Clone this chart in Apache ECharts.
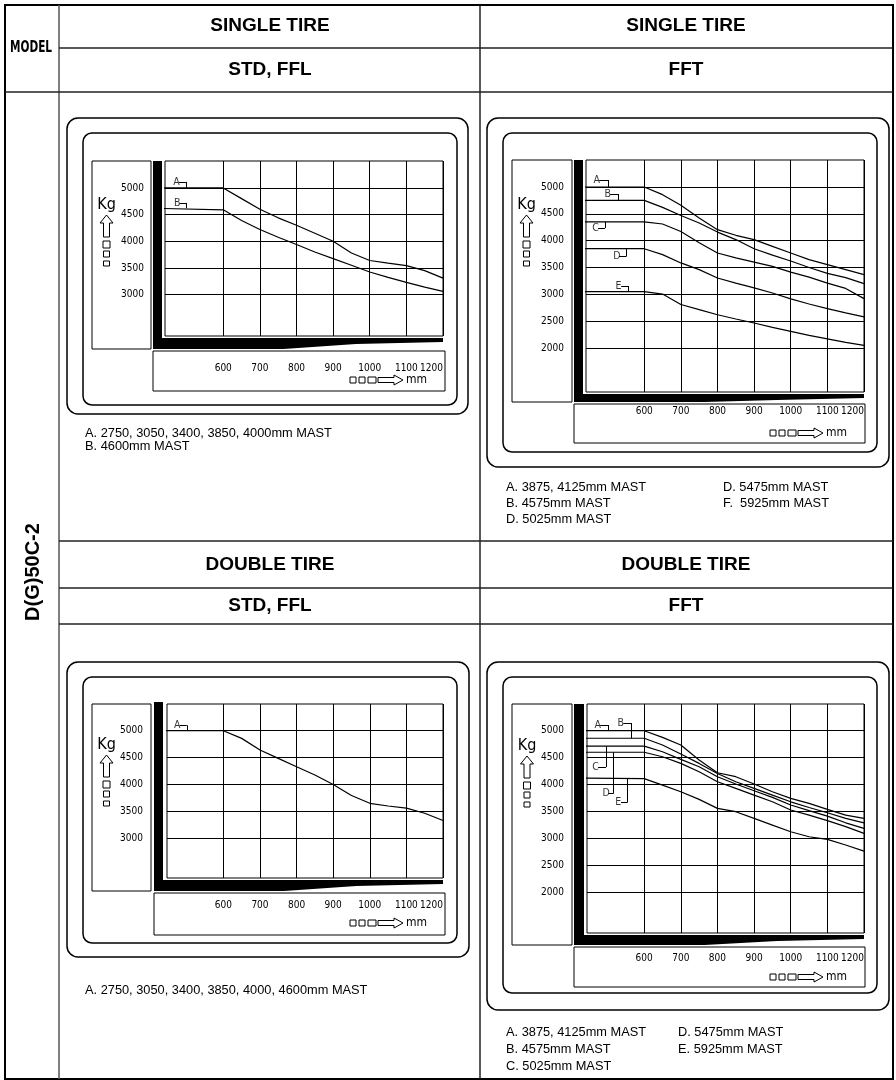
<!DOCTYPE html>
<html><head><meta charset="utf-8">
<script src="https://cdn.jsdelivr.net/npm/echarts@6/dist/echarts.min.js"></script>
<style>html,body{margin:0;padding:0;background:#fff;}#c{width:896px;height:1080px;}</style>
</head><body><div id="c"></div>
<script>
// ---------------- DATA ----------------
const loadCenter = [600, 650, 700, 750, 800, 850, 900, 950, 1000, 1050, 1100, 1150, 1200];
const flatFrom = 400;
const xTickValues = [600, 700, 800, 900, 1000, 1100, 1200];
const yTicksShort = [3000, 3500, 4000, 4500, 5000];
const yTicksLong = [2000, 2500, 3000, 3500, 4000, 4500, 5000];

// Single tire, STD/FFL
const sStdA_flat = 5000;
const sStdA = [5000, 4800, 4600, 4440, 4300, 4150, 4000, 3780, 3640, 3590, 3545, 3450, 3310];
const sStdB_flat = 4620;
const sStdB = [4590, 4390, 4220, 4075, 3940, 3800, 3675, 3550, 3425, 3325, 3230, 3140, 3060];

// Single tire, FFT
const sFftA_flat = 5000;
const sFftA = [5000, 4857, 4658, 4422, 4205, 4100, 4019, 3894, 3770, 3646, 3553, 3460, 3367];
const sFftB_flat = 4750;
const sFftB = [4750, 4620, 4470, 4330, 4160, 4020, 3850, 3730, 3620, 3500, 3390, 3310, 3200];
const sFftC_flat = 4350;
const sFftC = [4350, 4310, 4170, 3960, 3770, 3680, 3600, 3520, 3415, 3320, 3210, 3110, 2920];
const sFftD_flat = 3850;
const sFftD = [3850, 3740, 3585, 3460, 3305, 3210, 3120, 3025, 2915, 2820, 2735, 2655, 2580];
const sFftE_flat = 3050;
const sFftE = [3050, 3005, 2810, 2715, 2620, 2540, 2465, 2385, 2310, 2235, 2170, 2105, 2050];

// Double tire, STD/FFL
const dStdA_flat = 5000;
const dStdA = [5000, 4857, 4640, 4485, 4330, 4175, 4000, 3795, 3650, 3600, 3560, 3465, 3330];

// Double tire, FFT
const dFftA_flat = 5000;
const dFftA = [5000, 4876, 4734, 4455, 4220, 4146, 4010, 3867, 3743, 3650, 3540, 3434, 3372];
const dFftB_flat = 4860;
const dFftB = [4860, 4734, 4567, 4393, 4207, 4053, 3930, 3805, 3680, 3575, 3477, 3372, 3290];
const dFftC_flat = 4715;
const dFftC = [4715, 4610, 4468, 4330, 4145, 4010, 3885, 3762, 3620, 3515, 3415, 3290, 3186];
const dFftD_flat = 4600;
const dFftD = [4600, 4517, 4393, 4238, 4053, 3930, 3805, 3682, 3527, 3434, 3330, 3218, 3094];
const dFftE_flat = 4120;
const dFftE = [4110, 3990, 3867, 3725, 3558, 3496, 3372, 3248, 3124, 3031, 2982, 2877, 2765];

// texts
const headerTop = 'SINGLE TIRE';
const headerBottom = 'DOUBLE TIRE';
const subLeft = 'STD, FFL';
const subRight = 'FFT';
const modelLabel = 'MODEL';
const modelName = 'D(G)50C-2';
const legend1 = ['A. 2750, 3050, 3400, 3850, 4000mm MAST', 'B. 4600mm MAST'];
const legend2a = ['A. 3875, 4125mm MAST', 'B. 4575mm MAST', 'D. 5025mm MAST'];
const legend2b = ['D. 5475mm MAST', 'F.  5925mm MAST'];
const legend3 = ['A. 2750, 3050, 3400, 3850, 4000, 4600mm MAST'];
const legend4a = ['A. 3875, 4125mm MAST', 'B. 4575mm MAST', 'C. 5025mm MAST'];
const legend4b = ['D. 5475mm MAST', 'E. 5925mm MAST'];

// ---------------- LAYOUT / STYLE ----------------
const FN = '"DejaVu Sans Condensed","Liberation Sans Narrow",sans-serif';
const FS = '"Liberation Sans",Arial,sans-serif';

const panels = [
  { plot:[165,161,443,336], outer:[67,118,468,414], inner:[83,133,457,405], ybox:[92,161,151,349],
    bar:[153,161,162,349], hbarTop:338, xbox:[153,351,445,391], kx:106.5, ky:205, unitY:380, unitR:427,
    xMin:441, yMin:2225, yMax:5505, xMargin:27, yMargin:21, yTicks:yTicksShort,
    curves:[{f:sStdA_flat,v:sStdA},{f:sStdB_flat,v:sStdB}],
    notes:[{t:'A',x:462,y:5112,bx:498,to:5000},{t:'B',x:464,y:4719,bx:500,to:4620}],
    legend:[{lines:legend1,x:85,y:433,dy:13}] },
  { plot:[586,160,864,392], outer:[487,118,889,467], inner:[503,133,877,452], ybox:[512,160,572,402],
    bar:[574,160,583,402], hbarTop:394, xbox:[574,404,865,443], kx:526.5, ky:205, unitY:433, unitR:847,
    xMin:441, yMin:1180, yMax:5503, xMargin:14, yMargin:22, yTicks:yTicksLong,
    curves:[{f:sFftA_flat,v:sFftA},{f:sFftB_flat,v:sFftB},{f:sFftC_flat,v:sFftC},{f:sFftD_flat,v:sFftD},{f:sFftE_flat,v:sFftE}],
    notes:[{t:'A',x:460,y:5130,bx:502,to:5000},{t:'B',x:490,y:4870,bx:529,to:4750},{t:'C',x:457,y:4236,bx:493,to:4350},
           {t:'D',x:514,y:3714,bx:552,to:3850},{t:'E',x:520,y:3155,bx:556,to:3050}],
    legend:[{lines:legend2a,x:506,y:487,dy:16},{lines:legend2b,x:723,y:487,dy:16}] },
  { plot:[167,704,443,878], outer:[67,662,469,957], inner:[83,677,457,943], ybox:[92,704,151,891],
    bar:[154,702,163,891], hbarTop:880, xbox:[154,893,445,935], kx:106.5, ky:745, unitY:923, unitR:427,
    xMin:446, yMin:2262, yMax:5496, xMargin:22, yMargin:24, yTicks:yTicksShort,
    curves:[{f:dStdA_flat,v:dStdA}],
    notes:[{t:'A',x:464,y:5100,bx:500,to:5000}],
    legend:[{lines:legend3,x:85,y:990,dy:16}] },
  { plot:[587,704,864,933], outer:[487,662,889,1010], inner:[503,677,877,993], ybox:[512,704,572,945],
    bar:[574,704,584,945], hbarTop:935, xbox:[574,947,865,987], kx:527, ky:746, unitY:977, unitR:847,
    xMin:444, yMin:1244, yMax:5496, xMargin:20, yMargin:23, yTicks:yTicksLong,
    curves:[{f:dFftA_flat,v:dFftA},{f:dFftB_flat,v:dFftB},{f:dFftC_flat,v:dFftC},{f:dFftD_flat,v:dFftD},{f:dFftE_flat,v:dFftE}],
    notes:[{t:'A',x:463,y:5106,bx:502,to:5000},{t:'B',x:526,y:5143,bx:564,to:4860},{t:'C',x:457,y:4326,bx:496,to:4715},
           {t:'D',x:485,y:3843,bx:517,to:4600},{t:'E',x:520,y:3676,bx:555,to:4120}],
    legend:[{lines:legend4a,x:506,y:1032,dy:17},{lines:legend4b,x:678,y:1032,dy:17}] }
];

// ---------------- HELPERS ----------------
const L = (x1,y1,x2,y2,w,c) => ({type:'line', silent:true, shape:{x1,y1,x2,y2}, style:{stroke:c||'#222', lineWidth:w||1.5}});
const R = (a,r,w,fill) => ({type:'rect', silent:true, shape:{x:a[0],y:a[1],width:a[2]-a[0],height:a[3]-a[1],r:r||0}, style:{fill:fill||'none', stroke: fill ? null : '#000', lineWidth:w||1}});
const T = (text,x,y,font,align,rot,sx) => ({type:'text', silent:true, x, y, rotation:rot||0, scaleX:sx||1,
  style:{text, x:0, y:0, font, fill:'#000', align:align||'center', verticalAlign:'middle'}});
const PG = (pts,fill,stroke) => ({type:'polygon', silent:true, shape:{points:pts}, style:{fill:fill||'#000', stroke:stroke||null, lineWidth:1}});

const grid=[], xAxis=[], yAxis=[], series=[], graphic=[];
const HF = 'bold 19px '+FS;

// table
graphic.push(R([5,5,893,1079],0,2));
graphic.push(L(59,5,59,1079,1.5,'#555'));
graphic.push(L(480,5,480,1079,1.5));
graphic.push(L(59,48,893,48,1.5));
graphic.push(L(5,92,893,92,1.5));
graphic.push(L(59,541,893,541,1.5));
graphic.push(L(59,588,893,588,1.5));
graphic.push(L(59,624,893,624,1.5));
graphic.push(T(modelLabel,31,48,'bold 15px '+FN,'center',0,0.78));
graphic.push(T(modelName,33,572,'bold 20px '+FS,'center',Math.PI/2));
graphic.push(T(headerTop,270,26,HF));
graphic.push(T(headerTop,686,26,HF));
graphic.push(T(subLeft,270,70,HF));
graphic.push(T(subRight,686,70,HF));
graphic.push(T(headerBottom,270,565,HF));
graphic.push(T(headerBottom,686,565,HF));
graphic.push(T(subLeft,270,606,HF));
graphic.push(T(subRight,686,606,HF));

panels.forEach((p,i) => {
  const [l,t,r,b] = p.plot;
  grid.push({left:l, top:t, width:r-l, height:b-t, show:true, borderColor:'#000', borderWidth:1,
    backgroundColor:'transparent', containLabel:false, outerBoundsMode:'none'});
  xAxis.push({type:'value', gridIndex:i, min:p.xMin, max:1200,
    axisLine:{show:false}, axisTick:{show:false, customValues:xTickValues},
    splitLine:{show:true, lineStyle:{color:'#000', width:1}},
    axisLabel:{customValues:xTickValues, margin:p.xMargin, color:'#000', fontFamily:FN, fontSize:10,
      alignMaxLabel:'right', formatter:v => String(v)}});
  yAxis.push({type:'value', gridIndex:i, min:p.yMin, max:p.yMax,
    axisLine:{show:false}, axisTick:{show:false, customValues:p.yTicks},
    splitLine:{show:true, lineStyle:{color:'#000', width:1}},
    axisLabel:{customValues:p.yTicks, margin:p.yMargin, color:'#000', fontFamily:FN, fontSize:10,
      formatter:v => String(v)}});
  p.curves.forEach(c => {
    series.push({type:'line', xAxisIndex:i, yAxisIndex:i, symbol:'none', silent:true, clip:true,
      lineStyle:{color:'#000', width:1.2},
      data:[[flatFrom, c.f]].concat(loadCenter.map((x,k) => [x, c.v[k]]))});
  });
  const ml = [];
  p.notes.forEach(n => {
    ml.push([{coord:[n.x+17, n.y]}, {coord:[n.bx, n.y]}]);
    ml.push([{coord:[n.bx, n.y]}, {coord:[n.bx, n.to]}]);
  });
  series.push({type:'scatter', xAxisIndex:i, yAxisIndex:i, symbolSize:1, silent:true,
    itemStyle:{color:'transparent'},
    data:p.notes.map(n => ({value:[n.x, n.y], name:n.t})),
    label:{show:true, position:'right', distance:0, formatter:'{b}', color:'#000', fontFamily:FN, fontSize:10.5},
    markLine:{symbol:['none','none'], silent:true, label:{show:false}, emphasis:{disabled:true},
      lineStyle:{color:'#000', width:1, type:'solid'}, data:ml}});

  // decor
  graphic.push(R(p.outer,11,1.5));
  graphic.push(R(p.inner,9,1.5));
  graphic.push(R(p.ybox,0,1));
  graphic.push(R(p.xbox,0,1));
  graphic.push(R(p.bar,0,0,'#000'));
  const bl=p.bar[0], bb=p.bar[3], ht=p.hbarTop;
  graphic.push(PG([[bl,ht],[r,ht],[r,ht+4],[bl+(r-bl)*0.7,ht+6],[bl+(r-bl)*0.45,bb],[bl,bb]]));
  graphic.push(T('Kg',p.kx,p.ky,'16px '+FN));
  const ay=p.ky+10, kx=p.kx;
  graphic.push(PG([[kx,ay],[kx+6.5,ay+8],[kx+3,ay+8],[kx+3,ay+22],[kx-3,ay+22],[kx-3,ay+8],[kx-6.5,ay+8]],'none','#000'));
  graphic.push(R([kx-3.5,ay+26,kx+3.5,ay+33],0,1));
  graphic.push(R([kx-3,ay+36,kx+3,ay+42],0,1));
  graphic.push(R([kx-3,ay+46,kx+3,ay+51],0,1));
  const ur=p.unitR, uy=p.unitY;
  graphic.push(T('mm',ur,uy,'12px '+FN,'right'));
  const ax0=ur-49;
  graphic.push(PG([[ax0,uy-2.5],[ax0+16,uy-2.5],[ax0+16,uy-5],[ax0+25,uy],[ax0+16,uy+5],[ax0+16,uy+2.5],[ax0,uy+2.5]],'none','#000'));
  graphic.push(R([ur-77,uy-3,ur-71,uy+3],0,1));
  graphic.push(R([ur-68,uy-3,ur-62,uy+3],0,1));
  graphic.push(R([ur-59,uy-3,ur-51,uy+3],0,1));
  p.legend.forEach(lg => lg.lines.forEach((s,k) => graphic.push(T(s,lg.x,lg.y+k*lg.dy,'12.8px '+FS,'left'))));
});

const chart = echarts.init(document.getElementById('c'), null, {renderer:'canvas'});
chart.setOption({animation:false, backgroundColor:'#fff', grid, xAxis, yAxis, series, graphic});
</script></body></html>
